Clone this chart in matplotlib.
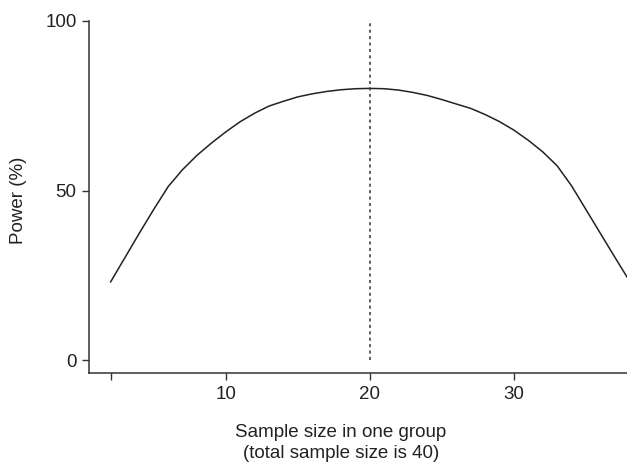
import matplotlib
matplotlib.use('Agg')
import matplotlib.pyplot as plt

plt.rcParams['font.family'] = ['Liberation Sans', 'DejaVu Sans']

# sample size in one group (total 40) and power (%)
n_group = list(range(2, 39))
power = [23.1, 30.3, 37.5, 44.5, 51.2, 56.2, 60.4, 64.0, 67.3, 70.3,
         72.8, 74.9, 76.3, 77.6, 78.5, 79.2, 79.7, 80.0, 80.1, 80.0,
         79.6, 78.9, 78.0, 76.8, 75.5, 74.2, 72.4, 70.3, 67.8, 64.8,
         61.4, 57.3, 51.4, 44.4, 37.4, 30.4, 23.5]
x_ticks = [2, 10, 20, 30]
x_tick_labels = ['', '10', '20', '30']
y_ticks = [0, 50, 100]
best_n = 20

fig = plt.figure(figsize=(6.27, 4.63), dpi=100)
ax = fig.add_axes([0.142, 0.194, 0.858, 0.761])

ax.plot(n_group, power, color='#222222', lw=1.1)
ax.plot([best_n, best_n], [0, 100], color='#333333', lw=1.1, linestyle=(0, (2, 2.2)))

ax.set_xlim(0.5, 37.85)
ax.set_ylim(-3.8, 100)
ax.set_xticks(x_ticks)
ax.set_xticklabels(x_tick_labels)
ax.set_yticks(y_ticks)

for s in ['top', 'right']:
    ax.spines[s].set_visible(False)
for s in ['left', 'bottom']:
    ax.spines[s].set_linewidth(1.1)
    ax.spines[s].set_color('#333333')

ax.tick_params(axis='both', direction='out', length=5, width=1.0, color='#333333',
               labelsize=13.5, labelcolor='#222222')
ax.tick_params(axis='x', pad=4.5)
ax.tick_params(axis='y', pad=4)

ax.set_xlabel('Sample size in one group\n(total sample size is 40)', fontsize=13.5,
              color='#222222', linespacing=1.25)
ax.xaxis.set_label_coords(0.468, -0.145)
ax.set_ylabel('Power (%)', fontsize=13.5, color='#222222')
ax.yaxis.set_label_coords(-0.115, 0.49)

fig.savefig('out.png', dpi=100)
